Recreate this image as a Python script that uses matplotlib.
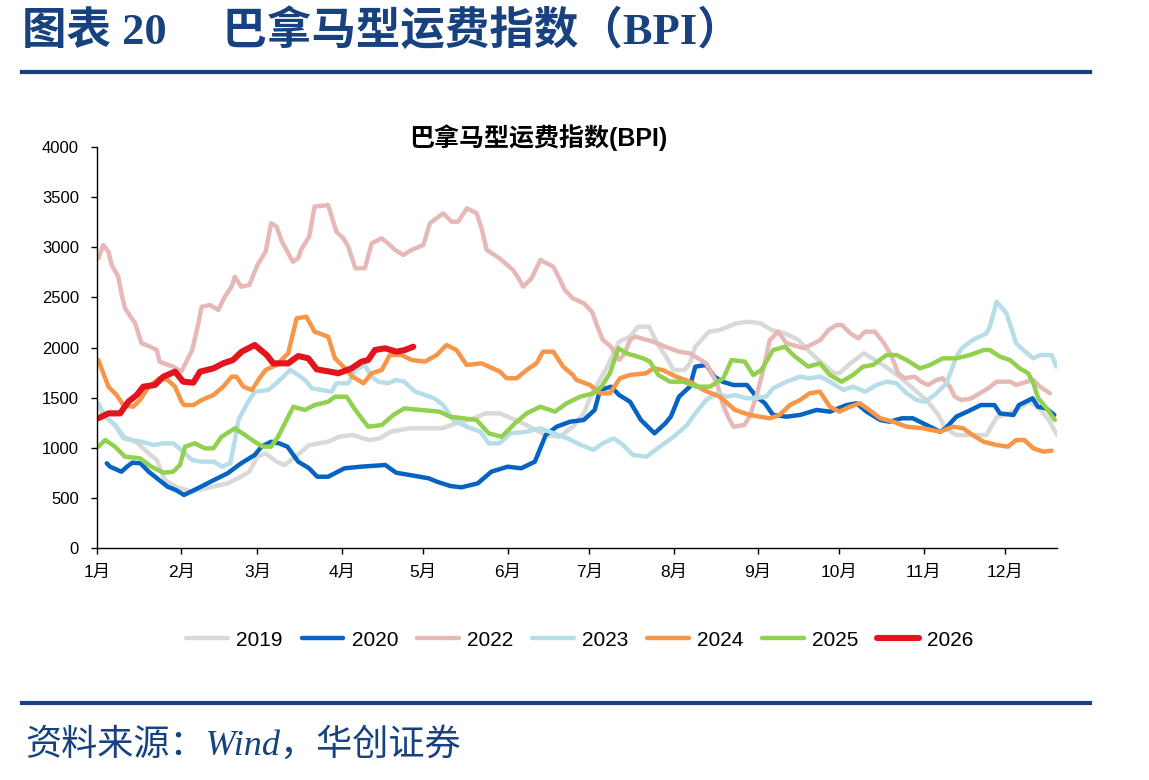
import matplotlib
matplotlib.use("Agg")
import matplotlib.pyplot as plt
from matplotlib.lines import Line2D

# day-of-year / BPI values
days_2019 = [0, 3, 6.6, 10, 15, 19, 22, 25, 29, 35, 40, 48, 53, 56, 59, 62, 66, 69, 73, 78, 85, 89, 94, 100, 104, 108,
             115, 127, 132, 137, 143, 148, 154, 159, 165, 170, 175, 179, 182, 187, 192, 196, 199, 203, 206, 210, 212,
             216, 218, 220, 225, 229, 235, 240, 244, 248, 253, 258, 262, 266, 271, 273, 277, 282, 285, 290, 295, 300,
             305, 309, 312, 316, 327, 331, 334, 338, 343, 347, 350, 353]
bpi_2019 = [1420, 1310, 1230, 1110, 1044, 944, 878, 678, 611, 562, 595, 645, 711, 761, 911, 944, 861, 828, 911, 1027,
            1060, 1110, 1127, 1077, 1094, 1160, 1194, 1194, 1244, 1277, 1343, 1343, 1277, 1210, 1127, 1110, 1210, 1343,
            1543, 1776, 2058, 2108, 2208, 2208, 2042, 1875, 1776, 1776, 1842, 2008, 2158, 2175, 2241, 2257, 2241, 2175,
            2141, 2075, 1958, 1858, 1743, 1743, 1842, 1942, 1892, 1809, 1709, 1593, 1476, 1343, 1194, 1127, 1127, 1310,
            1327, 1377, 1459, 1377, 1277, 1127]

days_2020 = [3.6, 4.8, 9, 11, 13, 16, 19, 26, 29, 32, 37, 43, 48, 53, 58, 60.5, 64, 67, 70, 74, 78, 81, 85, 91, 97, 106,
             110, 115, 122, 125, 130, 134, 140, 145, 151, 156, 161, 165, 169, 174, 179, 183, 185, 189, 192, 196, 200,
             205, 209, 211, 214, 218, 220, 224, 227, 230, 234, 239, 242.5, 245.6, 248.6, 253.5, 258.5, 264.6, 269.5,
             275.6, 279.3, 283, 288, 291.5, 296, 300, 305, 310, 312, 316, 320, 325, 330, 332, 337, 339, 344, 346, 349,
             352]
bpi_2020 = [845, 811, 761, 811, 851, 845, 761, 611, 578, 529, 595, 678, 745, 845, 928, 1011, 1060, 1044, 1011, 861, 795,
            711, 711, 795, 811, 828, 751, 728, 695, 661, 618, 605, 645, 761, 811, 795, 861, 1127, 1210, 1260, 1277,
            1377, 1576, 1609, 1526, 1459, 1277, 1144, 1244, 1310, 1509, 1609, 1809, 1826, 1709, 1659, 1626, 1626, 1509,
            1443, 1327, 1310, 1327, 1377, 1360, 1426, 1443, 1360, 1277, 1260, 1294, 1294, 1227, 1160, 1194, 1310, 1360,
            1426, 1426, 1343, 1327, 1426, 1493, 1409, 1393, 1327]

days_2022 = [0.5, 2.3, 4.2, 5.4, 7.8, 9.1, 10.3, 14, 16.4, 19.5, 22, 23, 28, 31, 35, 37, 38.5, 41.5, 44.6, 47, 49.5,
             50.7, 53, 56, 59, 62, 64, 66, 68, 70, 72, 74, 75, 78, 80, 85, 88, 90.6, 92.4, 95, 98.5, 101, 104.7, 107,
             109.6, 112.6, 115.7, 120, 122.4, 127.3, 130.4, 132.8, 136, 139.6, 141.4, 143.3, 148, 153, 155, 156.7,
             159.8, 163, 167.8, 170, 172, 175, 179, 182, 184, 186, 189, 192, 194, 196, 198, 204.5, 209, 214, 218, 224,
             228, 230, 232, 234, 238, 240, 242.5, 245, 247.4, 250.5, 253.5, 260, 266, 269, 272, 274, 277, 280, 282.4,
             286, 289, 292, 294.6, 297, 300.7, 303, 305.6, 308.7, 311, 313.6, 315.4, 318, 321.6, 324.6, 327.7, 330.8,
             335.7, 338, 342, 344.3, 346.7, 350.4]
bpi_2022 = [2890, 3022, 2956, 2823, 2706, 2524, 2391, 2241, 2042, 2008, 1975, 1858, 1809, 1759, 1975, 2208, 2407, 2424,
            2374, 2507, 2607, 2706, 2607, 2623, 2823, 2956, 3239, 3205, 3056, 2956, 2856, 2890, 2973, 3105, 3405, 3421,
            3155, 3089, 3006, 2790, 2790, 3039, 3089, 3039, 2973, 2923, 2973, 3022, 3239, 3339, 3255, 3255, 3388, 3339,
            3189, 2973, 2890, 2773, 2690, 2607, 2690, 2873, 2806, 2690, 2574, 2490, 2441, 2357, 2208, 2075, 2008, 1875,
            1942, 2075, 2108, 2058, 2008, 1958, 1942, 1842, 1643, 1443, 1310, 1210, 1227, 1310, 1520, 1776, 2075, 2158,
            2042, 1992, 2075, 2175, 2224, 2224, 2141, 2091, 2158, 2158, 2058, 1925, 1743, 1693, 1709, 1659, 1626, 1676,
            1693, 1609, 1509, 1476, 1493, 1543, 1593, 1659, 1659, 1626, 1659, 1676, 1609, 1543]

days_2023 = [0.5, 3, 6.6, 9.7, 12.8, 16.4, 20.7, 24.4, 28, 31, 35, 38.5, 43, 46, 49, 50.7, 52, 55.6, 58, 63, 66.6, 71,
             74, 76.5, 79, 82.6, 86.3, 88, 92.4, 95, 98.5, 101, 103.4, 107, 110, 113, 117, 120.6, 124, 127.3, 131, 136,
             141, 144, 148, 152, 158, 163, 168, 173, 178, 182.5, 186, 190, 193.5, 197, 202, 207, 212, 217, 220, 224,
             228, 231.5, 234.6, 239, 241.3, 246, 248.6, 253.5, 258.5, 262, 266, 269.5, 274.4, 278, 282.4, 286.7, 290.3,
             294, 297.7, 301.4, 304.4, 308, 312.4, 316, 318, 322, 327, 328.3, 330.8, 334.4, 338, 340.6, 344.3, 346.7,
             351, 352.8]
bpi_2023 = [1443, 1310, 1227, 1094, 1077, 1060, 1027, 1044, 1044, 978, 878, 861, 861, 811, 845, 1077, 1277, 1459, 1559,
            1576, 1659, 1776, 1726, 1676, 1593, 1576, 1559, 1643, 1643, 1776, 1826, 1709, 1659, 1643, 1676, 1659, 1559,
            1526, 1493, 1426, 1277, 1210, 1160, 1044, 1044, 1144, 1160, 1194, 1144, 1094, 1027, 978, 1044, 1094, 1027,
            928, 911, 1011, 1110, 1227, 1343, 1476, 1543, 1509, 1526, 1493, 1493, 1509, 1593, 1659, 1709, 1693, 1709,
            1659, 1576, 1609, 1559, 1626, 1659, 1643, 1543, 1476, 1459, 1526, 1643, 1909, 1992, 2075, 2141, 2208, 2457,
            2341, 2042, 1975, 1892, 1925, 1925, 1809]

days_2024 = [0.5, 2.3, 4.2, 7.2, 9.7, 13.3, 15.8, 19, 23, 26, 28.7, 31.1, 32, 35.4, 38.5, 42.8, 46.4, 49.5, 51.3, 53.8,
             57, 59.3, 62, 66, 70.3, 73.4, 77, 80, 85, 87.5, 90.6, 94, 98, 101, 104.7, 107.7, 112, 115.7, 120.6, 124.9,
             128.5, 132.2, 135.9, 141.4, 148.2, 150.6, 154.3, 158, 161.6, 164, 167.8, 171.4, 175, 176.3, 181.3, 185,
             188.6, 192.3, 196, 202, 204.5, 208, 213, 218, 223, 229, 234.6, 240, 243.8, 247.4, 251, 254.8, 258.5, 262,
             265.8, 269.5, 273, 276.8, 280.5, 284, 288, 292.8, 297.7, 303.8, 310, 314.8, 318.5, 322, 326, 330.8, 335,
             338, 341, 344.3, 348, 351]
bpi_2024 = [1875, 1743, 1609, 1526, 1426, 1409, 1476, 1609, 1693, 1676, 1609, 1459, 1426, 1426, 1476, 1526, 1609, 1709,
            1709, 1609, 1576, 1676, 1776, 1826, 1942, 2291, 2307, 2158, 2108, 1892, 1809, 1709, 1643, 1743, 1776, 1925,
            1925, 1875, 1859, 1925, 2025, 1975, 1826, 1842, 1759, 1693, 1693, 1776, 1842, 1958, 1958, 1809, 1726, 1676,
            1626, 1543, 1543, 1693, 1726, 1743, 1792, 1776, 1709, 1659, 1576, 1509, 1377, 1327, 1310, 1294, 1327, 1426,
            1476, 1543, 1559, 1409, 1360, 1409, 1443, 1377, 1294, 1260, 1210, 1194, 1160, 1210, 1194, 1127, 1060, 1027,
            1011, 1077, 1077, 994, 961, 971]

days_2025 = [0.5, 3, 6.6, 10.3, 15.8, 20, 24.4, 28, 30.5, 32.4, 36, 39.7, 42.8, 45.8, 50.7, 54.4, 58, 61, 64, 66.6,
             69.7, 72.2, 76.5, 80, 85, 87.5, 91.8, 95, 97.3, 99.7, 104.7, 109, 113, 119, 126, 129.8, 134.7, 139.6, 144,
             148.8, 153.7, 158, 163, 168.4, 172.7, 177.6, 182.5, 185.5, 188.6, 191.7, 194.7, 200.8, 203.3, 206.4, 210.7,
             215.6, 220.4, 225.4, 230.3, 233.3, 238.2, 241.3, 244.3, 248.6, 253, 256, 261.5, 265.8, 269.5, 273.8, 278,
             281.7, 285.4, 290.3, 294, 297.7, 302.6, 306.3, 311, 316, 321, 326, 328.3, 332, 335.7, 339.3, 342.4, 344.3,
             346.1, 349.2, 352.2]
bpi_2025 = [1011, 1077, 1011, 911, 895, 811, 751, 761, 828, 1011, 1044, 994, 994, 1110, 1194, 1127, 1060, 1011, 1011,
            1110, 1277, 1409, 1377, 1426, 1459, 1509, 1509, 1377, 1294, 1210, 1227, 1327, 1393, 1377, 1360, 1310, 1294,
            1277, 1144, 1110, 1244, 1343, 1409, 1360, 1443, 1509, 1543, 1609, 1743, 1992, 1942, 1892, 1859, 1726, 1659,
            1659, 1609, 1609, 1693, 1875, 1859, 1726, 1776, 1975, 2008, 1925, 1809, 1842, 1726, 1659, 1726, 1809, 1826,
            1925, 1925, 1875, 1792, 1826, 1892, 1892, 1925, 1975, 1975, 1909, 1875, 1792, 1743, 1643, 1493, 1393, 1277]

days_2026 = [0.5, 4.2, 8.5, 11.5, 14.6, 17, 21.3, 24.4, 28.7, 31.7, 35.4, 37.9, 42.8, 46.4, 50, 53.2, 58, 62.4, 64.8,
             70.3, 74, 77.7, 80.8, 85.7, 88.7, 93.6, 97.3, 99.7, 102.2, 105.9, 110.2, 113.2, 116.3]
bpi_2026 = [1294, 1343, 1343, 1459, 1526, 1609, 1626, 1709, 1759, 1659, 1649, 1759, 1792, 1842, 1875, 1958, 2025, 1925,
            1842, 1842, 1915, 1892, 1782, 1759, 1743, 1792, 1859, 1875, 1975, 1992, 1958, 1975, 2008]

month_starts = [0, 31, 59, 90, 120, 151, 181, 212, 243, 273, 304, 334]
month_labels = ["1月", "2月", "3月", "4月", "5月", "6月", "7月", "8月", "9月", "10月", "11月", "12月"]

series = [
    ("2019", days_2019, bpi_2019, "#D9D9D9", 3.2),
    ("2020", days_2020, bpi_2020, "#0563C1", 3.2),
    ("2022", days_2022, bpi_2022, "#E6B9B8", 3.2),
    ("2023", days_2023, bpi_2023, "#B7DEE8", 3.2),
    ("2024", days_2024, bpi_2024, "#F79646", 3.2),
    ("2025", days_2025, bpi_2025, "#92D050", 3.2),
    ("2026", days_2026, bpi_2026, "#E3141E", 4.4),
]

sans = ["Liberation Sans", "Noto Sans CJK SC"]
serif = ["Liberation Serif", "Noto Sans CJK SC"]
plt.rcParams["font.family"] = sans

fig = plt.figure(figsize=(11.49, 7.8), dpi=100)
ax = fig.add_axes([97 / 1149, 1 - 548 / 780, 960 / 1149, 401 / 780])

for name, d, v, color, lw in series:
    ax.plot(d, v, color=color, lw=lw, label=name,
            solid_capstyle="round", solid_joinstyle="round")

ax.set_xlim(0, 353)
ax.set_ylim(0, 4000)
ax.set_yticks(range(0, 4001, 500))
ax.set_xticks(month_starts)
ax.set_xticklabels(month_labels)
ax.tick_params(labelsize=12.5, length=4, width=1, color="black")
ax.tick_params(axis="y", pad=9, labelsize=12)
ax.tick_params(axis="x", pad=8)
for s in ["top", "right"]:
    ax.spines[s].set_visible(False)
for s in ["left", "bottom"]:
    ax.spines[s].set_linewidth(1)
    ax.spines[s].set_color("black")

fig.text(538 / 1149, 1 - 138 / 780, "巴拿马型运费指数(BPI)", ha="center", va="center",
         fontsize=18, fontweight="bold", family=sans)

handles = [Line2D([], [], color=c, lw=lw, solid_capstyle="round") for _, _, _, c, lw in series]
fig.legend(handles, [s[0] for s in series], loc="center", ncol=7, frameon=False,
           bbox_to_anchor=(580 / 1149, 1 - 640 / 780), fontsize=15,
           handlelength=2.0, handletextpad=0.4, columnspacing=0.9)

navy = "#17427F"
fig.text(22 / 1149, 1 - 31 / 780, "图表 20　 巴拿马型运费指数（BPI）", ha="left", va="center",
         fontsize=32, fontweight="bold", color=navy, family=serif)
fig.add_artist(Line2D([22 / 1149, 1090 / 1149], [1 - 72 / 780, 1 - 72 / 780], color=navy, lw=3))
fig.add_artist(Line2D([22 / 1149, 1090 / 1149], [1 - 703 / 780, 1 - 703 / 780], color=navy, lw=3))
fig.text(25 / 1149, 1 - 745 / 780, "资料来源：Wind，华创证券", ha="left", va="center",
         fontsize=26, style="italic", color=navy, family=serif)

fig.savefig("out.png", dpi=100)
